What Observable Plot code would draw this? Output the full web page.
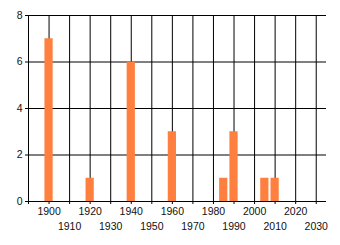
<!DOCTYPE html>
<html><head><meta charset="utf-8">
<script src="https://cdn.jsdelivr.net/npm/d3@7"></script>
<script src="https://cdn.jsdelivr.net/npm/@observablehq/plot@0.6"></script>
<style>body{margin:0;background:#fff}</style>
</head><body><div id="chart"></div>
<script>
const years = [1900, 1920, 1940, 1960, 1985, 1990, 2005, 2010];
const counts = [7, 1, 6, 3, 1, 3, 1, 1];
const xTicksRow1 = [1900, 1920, 1940, 1960, 1980, 2000, 2020];
const xTicksRow2 = [1910, 1930, 1950, 1970, 1990, 2010, 2030];
const xGrid = [1890, 1900, 1910, 1920, 1930, 1940, 1950, 1960, 1970, 1980, 1990, 2000, 2010, 2020, 2030];
const yTicks = [0, 2, 4, 6, 8];

const data = years.map((y, i) => ({year: y, count: counts[i]}));

const chart = Plot.plot({
  width: 340, height: 245,
  marginLeft: 28, marginTop: 15, marginRight: 14, marginBottom: 44,
  style: {fontFamily: "'Liberation Sans', Arial, sans-serif", fontSize: "10.5px", color: "#000", background: "#fff"},
  x: {domain: [1890, 2035]},
  y: {domain: [0, 8]},
  marks: [
    Plot.gridX(xGrid, {stroke: "#000", strokeOpacity: 1, strokeWidth: 1}),
    Plot.gridY(yTicks, {stroke: "#000", strokeOpacity: 1, strokeWidth: 1}),
    Plot.rectY(data, {x1: d => d.year - 2, x2: d => d.year + 2, y: "count", fill: "#FF7F3F"}),
    Plot.axisX(xGrid, {tickSize: 3, tickFormat: () => "", label: null, stroke: "#000"}),
    Plot.axisX(xTicksRow1, {tickSize: 0, tickPadding: 6, tickFormat: "d", label: null, fill: "#111"}),
    Plot.axisX(xTicksRow2, {tickSize: 0, tickPadding: 21, tickFormat: "d", label: null, fill: "#111"}),
    Plot.axisY(yTicks, {tickSize: 3, tickPadding: 3, tickFormat: "d", label: null, fill: "#111", stroke: "#000"})
  ]
});
document.getElementById("chart").appendChild(chart);
</script>
</body></html>
